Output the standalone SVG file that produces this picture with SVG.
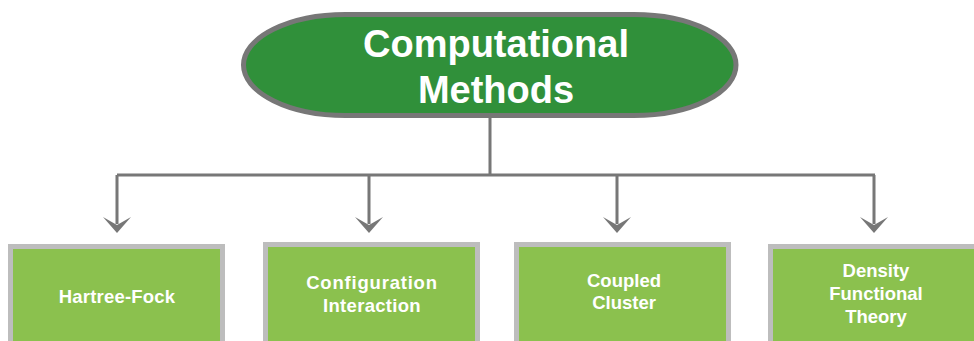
<svg xmlns="http://www.w3.org/2000/svg" width="974" height="341" viewBox="0 0 974 341">
<defs>
<style>
.conn{stroke:#777777;stroke-width:3;fill:none}
.head{fill:#777777}
.box{fill:#8BC14E;stroke:#BDBDBD;stroke-width:5}
.t{font-family:"Liberation Sans",Arial,sans-serif;font-weight:bold;fill:#ffffff;text-anchor:middle}
.bt{font-size:18.5px}
</style>
</defs>
<rect width="974" height="341" fill="#ffffff"/>
<g id="connectors">
<path class="conn" d="M490,117 V175 M117,175 H875 M117,175 V224 M369,175 V224 M617,175 V224 M874,175 V224"/>
<path class="head" d="M117,233 L103,217 L117,225 L131,217 Z"/>
<path class="head" d="M369,233 L355,217 L369,225 L383,217 Z"/>
<path class="head" d="M617,233 L603,217 L617,225 L631,217 Z"/>
<path class="head" d="M874,233 L860,217 L874,225 L888,217 Z"/>
</g>
<g id="root">
<rect x="243.5" y="14.5" width="492.5" height="101" rx="102" ry="50.5" fill="#30903A" stroke="#777777" stroke-width="5"/>
<text class="t" x="496" y="57" font-size="38">Computational</text>
<text class="t" x="496" y="103" font-size="38">Methods</text>
</g>
<g id="hartree-fock">
<rect class="box" x="10.5" y="246.5" width="212" height="110"/>
<text class="t bt" x="117" y="303" letter-spacing="0.2">Hartree-Fock</text>
</g>
<g id="configuration-interaction">
<rect class="box" x="265.5" y="244.5" width="212" height="110"/>
<text class="t bt" x="372" y="289" letter-spacing="0.8">Configuration</text>
<text class="t bt" x="372" y="312" letter-spacing="0.3">Interaction</text>
</g>
<g id="coupled-cluster">
<rect class="box" x="516.5" y="244.5" width="212" height="110"/>
<text class="t bt" x="624" y="287">Coupled</text>
<text class="t bt" x="624" y="309">Cluster</text>
</g>
<g id="density-functional-theory">
<rect class="box" x="770.5" y="246.5" width="212" height="110"/>
<text class="t bt" x="876" y="277">Density</text>
<text class="t bt" x="876" y="300">Functional</text>
<text class="t bt" x="876" y="323">Theory</text>
</g>
</svg>
